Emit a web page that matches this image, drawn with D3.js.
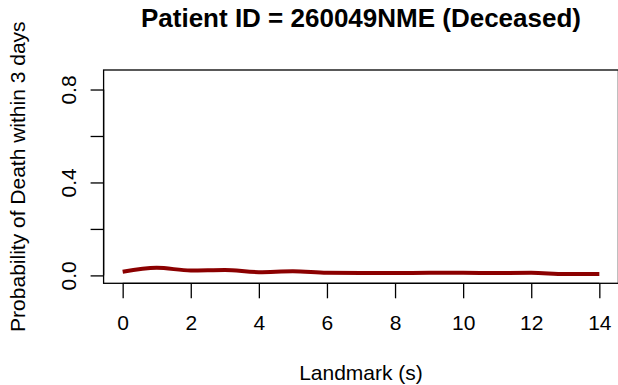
<!DOCTYPE html>
<html>
<head>
<meta charset="utf-8">
<script src="https://cdn.jsdelivr.net/npm/d3@7"></script>
<style>
  html, body { margin: 0; padding: 0; background: #fff; }
  svg { display: block; }
  text { font-family: "Liberation Sans", Arial, Helvetica, sans-serif; fill: #000; }
</style>
</head>
<body>
<svg id="chart" width="618" height="385"></svg>
<script>
const titleText = "Patient ID = 260049NME (Deceased)";
const xLabel = "Landmark (s)";
const yLabel = "Probability of Death within 3 days";
const landmarks = [0, 1, 2, 3, 4, 5, 6, 7, 8, 9, 10, 11, 12, 13, 14];
const probDeath = [0.016, 0.033, 0.021, 0.023, 0.014, 0.018, 0.011, 0.010, 0.010, 0.011, 0.011, 0.010, 0.011, 0.006, 0.006];
const xTicks = [0, 2, 4, 6, 8, 10, 12, 14];
const yTicks = [0, 0.2, 0.4, 0.6, 0.8];
const yTickLabels = ["0.0", "", "0.4", "", "0.8"];

const W = 618, H = 385;
const svg = d3.select("#chart");

// plot region (R-style: 4% extension of data ranges)
const box = { left: 103.6, right: 618.4, top: 70, bottom: 283.3 };
const xDom = [0, 14], yDom = [0, 0.85];
const xPad = (xDom[1] - xDom[0]) * 0.04, yPad = (yDom[1] - yDom[0]) * 0.04;
const x = d3.scaleLinear().domain([xDom[0] - xPad, xDom[1] + xPad]).range([box.left, box.right]);
const y = d3.scaleLinear().domain([yDom[0] - yPad, yDom[1] + yPad]).range([box.bottom, box.top]);

// data line
const line = d3.line().x((d, i) => x(landmarks[i])).y(d => y(d)).curve(d3.curveMonotoneX);
svg.append("path")
  .datum(probDeath)
  .attr("d", line)
  .attr("fill", "none")
  .attr("stroke", "#8B0000")
  .attr("stroke-width", 4)
  .attr("stroke-linejoin", "round");

// box
svg.append("rect")
  .attr("x", box.left).attr("y", box.top)
  .attr("width", box.right - box.left).attr("height", box.bottom - box.top)
  .attr("fill", "none").attr("stroke", "#000").attr("stroke-width", 1.3);

// x axis
const xAxis = d3.axisBottom(x).tickValues(xTicks).tickSize(15).tickPadding(17).tickFormat(d3.format("d"));
const gx = svg.append("g").attr("transform", `translate(0,${box.bottom})`).call(xAxis);
gx.select(".domain").attr("d", `M${x(xTicks[0])},0H${x(xTicks[xTicks.length - 1])}`).attr("stroke-width", 1.3);
gx.selectAll(".tick line").attr("stroke-width", 1.3);
gx.selectAll(".tick text").attr("font-size", 21).style("font-family", "Liberation Sans, Arial, sans-serif");

// y axis
const yAxis = d3.axisLeft(y).tickValues(yTicks).tickSize(13).tickFormat((d, i) => yTickLabels[i]);
const gy = svg.append("g").attr("transform", `translate(${box.left},0)`).call(yAxis);
gy.select(".domain").attr("d", `M0,${y(yTicks[0])}V${y(yTicks[yTicks.length - 1])}`).attr("stroke-width", 1.3);
gy.selectAll(".tick line").attr("stroke-width", 1.3);
gy.selectAll(".tick text")
  .attr("font-size", 21)
  .style("font-family", "Liberation Sans, Arial, sans-serif")
  .attr("x", null).attr("dy", null)
  .attr("text-anchor", "middle")
  .attr("transform", `translate(${76 - box.left},0) rotate(-90)`);

// title
svg.append("text")
  .attr("x", (box.left + box.right) / 2).attr("y", 27)
  .attr("text-anchor", "middle")
  .attr("font-size", 26).attr("font-weight", "bold")
  .text(titleText);

// x label
svg.append("text")
  .attr("x", (box.left + box.right) / 2).attr("y", 380)
  .attr("text-anchor", "middle")
  .attr("font-size", 21)
  .text(xLabel);

// y label
svg.append("text")
  .attr("transform", `translate(25,${(box.top + box.bottom) / 2}) rotate(-90)`)
  .attr("text-anchor", "middle")
  .attr("font-size", 21)
  .text(yLabel);
</script>
</body>
</html>
